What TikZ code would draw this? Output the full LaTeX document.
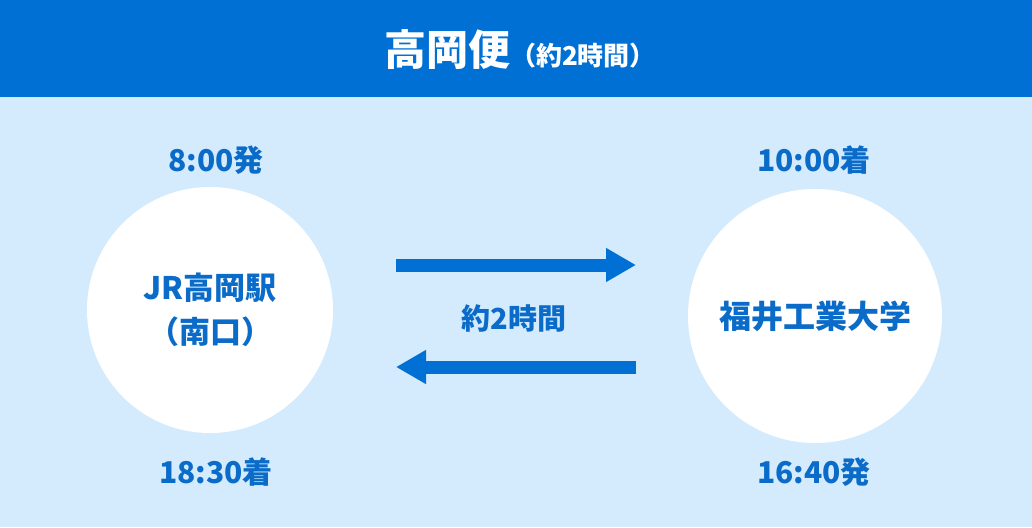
\documentclass[tikz,border=0pt]{standalone}
\usepackage{fontspec}
\setmainfont{Noto Sans CJK JP}
\usetikzlibrary{arrows.meta}
\definecolor{hdr}{HTML}{0070D4}
\definecolor{bg}{HTML}{D4EBFD}
\definecolor{tx}{HTML}{0A6BC8}
\tikzset{lbl/.style={text=tx,font=\bfseries\fontsize{30}{36}\selectfont,inner sep=0},
 stn/.style={circle,fill=white,minimum size=246pt,text=tx,font=\bfseries\fontsize{31}{44}\selectfont,align=center},
 arr/.style={draw=hdr,line width=13pt,-{Triangle[length=30pt,width=32pt]}}}
\begin{document}
\begin{tikzpicture}[x=1pt,y=-1pt]
\useasboundingbox (0,0) rectangle (1032,527);
\fill[bg] (0,0) rectangle (1032,527);
\fill[hdr] (0,0) rectangle (1032,97);
\node[text=white,font=\bfseries\fontsize{42}{48}\selectfont,inner sep=0] (title) at (520,50) {高岡便{\fontsize{26}{30}\selectfont （約2時間）}};
\node[stn] (a) at (210,310) {JR高岡駅\\（南口）};
\node[stn,minimum size=254pt,font=\bfseries\fontsize{32}{44}\selectfont] (b) at (815,316) {福井工業大学};
\node[lbl] (t1) at (216,160) {8:00発};
\node[lbl] (t2) at (216,472) {18:30着};
\node[lbl] (t3) at (814,160) {10:00着};
\node[lbl] (t4) at (814,472) {16:40発};
\node[lbl,font=\bfseries\fontsize{29}{34}\selectfont] (mid) at (514,318) {約2時間};
\coordinate (p1) at (396,265); \coordinate (q1) at (636,265);
\coordinate (p2) at (636,367); \coordinate (q2) at (396,367);
\draw[arr] (p1) -- (q1);
\draw[arr] (p2) -- (q2);
\end{tikzpicture}
\end{document}
